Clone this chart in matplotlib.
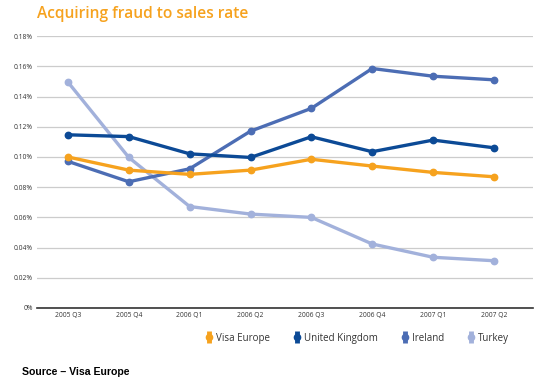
import matplotlib
matplotlib.use("Agg")
import matplotlib.pyplot as plt
from matplotlib.lines import Line2D

quarters = ["2005 Q3", "2005 Q4", "2006 Q1", "2006 Q2", "2006 Q3", "2006 Q4", "2007 Q1", "2007 Q2"]
visa_europe = [0.100, 0.0913, 0.0885, 0.0913, 0.0985, 0.0940, 0.0898, 0.0869]
united_kingdom = [0.1147, 0.1135, 0.1021, 0.0997, 0.1134, 0.1035, 0.1112, 0.1061]
ireland = [0.0971, 0.0836, 0.0922, 0.1171, 0.1322, 0.1586, 0.1535, 0.1511]
turkey = [0.1496, 0.0997, 0.0672, 0.0622, 0.0600, 0.0424, 0.0336, 0.0313]
y_ticks = [0, 0.02, 0.04, 0.06, 0.08, 0.10, 0.12, 0.14, 0.16, 0.18]
y_tick_labels = ["0%", "0.02%", "0.04%", "0.06%", "0.08%", "0.10%", "0.12%", "0.14%", "0.16%", "0.18%"]

series = [
    ("Visa Europe", visa_europe, "#F6A21E"),
    ("United Kingdom", united_kingdom, "#0C4A96"),
    ("Ireland", ireland, "#4C6DB4"),
    ("Turkey", turkey, "#A2B1DB"),
]

plt.rcParams['font.family'] = ['Open Sans', 'DejaVu Sans']

fig = plt.figure(figsize=(5.35, 3.85), dpi=100)
ax = fig.add_axes([0.069, 0.2, 0.927, 0.706])

x = list(range(len(quarters)))
for name, vals, col in reversed(series):
    ax.plot(x, vals, color=col, lw=2.4, marker='o', ms=4.6, zorder=3)

ax.set_xlim(-0.51, 7.64)
ax.set_ylim(0, 0.18)
ax.set_yticks(y_ticks)
ax.set_yticklabels(y_tick_labels, fontsize=4.9, color="#333333")
ax.set_xticks(x)
ax.set_xticklabels(quarters, fontsize=4.9, color="#333333")
ax.tick_params(length=0, pad=3)
ax.grid(axis='y', color="#cccccc", lw=0.9)
ax.set_axisbelow(True)
for s in ["top", "right", "left"]:
    ax.spines[s].set_visible(False)
ax.spines["bottom"].set_color("#333333")
ax.spines["bottom"].set_linewidth(1.2)

handles = []
for name, vals, col in series:
    h1 = Line2D([], [], color=col, marker='|', ms=9, mew=3.5, ls='none')
    h2 = Line2D([], [], color=col, marker='o', ms=4.5, ls='none')
    handles.append((h1, h2))
leg = fig.legend(handles, [s[0] for s in series], loc='center right',
                 bbox_to_anchor=(0.968, 0.122), ncol=4, frameon=False,
                 fontsize=7, handlelength=0.6, handletextpad=0.4, columnspacing=2.5)
for t in leg.get_texts():
    t.set_color("#333333")

fig.text(0.069, 0.985, "Acquiring fraud to sales rate", fontsize=11.2, color="#F6A21E",
         fontweight='semibold', va='top', ha='left')
fig.text(0.041, 0.033, "Source – Visa Europe", fontsize=7.6, fontweight='bold',
         family=['Liberation Sans', 'DejaVu Sans'], va='center', ha='left', color="#000000")

fig.savefig("out.png", dpi=100)
